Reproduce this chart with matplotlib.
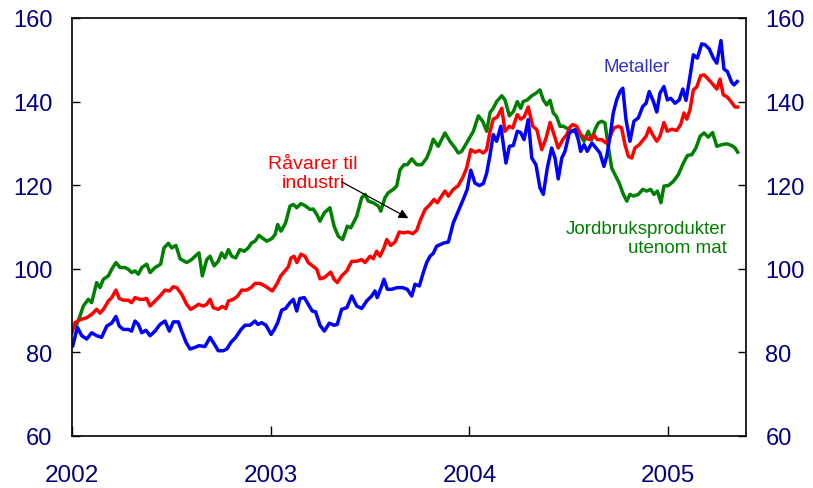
import matplotlib
matplotlib.use("Agg")
import matplotlib.pyplot as plt

plt.rcParams['font.family'] = ['Liberation Sans', 'DejaVu Sans']

# ---------------- data ----------------
green_t = [2002.007, 2002.024, 2002.040, 2002.057, 2002.082, 2002.099, 2002.116, 2002.124, 2002.141, 2002.158,
           2002.183, 2002.200, 2002.221, 2002.242, 2002.267, 2002.283, 2002.300, 2002.317, 2002.334, 2002.351,
           2002.376, 2002.393, 2002.418, 2002.446, 2002.463, 2002.485, 2002.502, 2002.523, 2002.544, 2002.577,
           2002.602, 2002.619, 2002.639, 2002.656, 2002.678, 2002.695, 2002.715, 2002.736, 2002.753, 2002.770,
           2002.787, 2002.804, 2002.824, 2002.845, 2002.867, 2002.887, 2002.904, 2002.921, 2002.941, 2002.963,
           2002.980, 2003.005, 2003.022, 2003.035, 2003.052, 2003.075, 2003.097, 2003.114, 2003.131, 2003.152,
           2003.173, 2003.198, 2003.214, 2003.232, 2003.248, 2003.270, 2003.298, 2003.319, 2003.340, 2003.362,
           2003.386, 2003.403, 2003.433, 2003.458, 2003.475, 2003.491, 2003.516, 2003.542, 2003.554, 2003.575,
           2003.592, 2003.617, 2003.634, 2003.651, 2003.671, 2003.687, 2003.710, 2003.735, 2003.760, 2003.785,
           2003.802, 2003.818, 2003.843, 2003.877, 2003.902, 2003.928, 2003.944, 2003.961, 2003.986, 2004.020,
           2004.045, 2004.067, 2004.087, 2004.104, 2004.120, 2004.137, 2004.163, 2004.179, 2004.201, 2004.221,
           2004.241, 2004.258, 2004.271, 2004.291, 2004.314, 2004.335, 2004.355, 2004.372, 2004.389, 2004.406,
           2004.422, 2004.439, 2004.456, 2004.473, 2004.498, 2004.523, 2004.540, 2004.557, 2004.577, 2004.598,
           2004.616, 2004.632, 2004.649, 2004.666, 2004.682, 2004.699, 2004.716, 2004.733, 2004.754, 2004.775,
           2004.792, 2004.808, 2004.825, 2004.850, 2004.872, 2004.892, 2004.912, 2004.929, 2004.946, 2004.964,
           2004.979, 2005.001, 2005.026, 2005.051, 2005.077, 2005.097, 2005.119, 2005.140, 2005.161, 2005.181,
           2005.202, 2005.224, 2005.245, 2005.270, 2005.295, 2005.320, 2005.337, 2005.350]
green_v = [86.0, 86.7, 88.7, 91.1, 92.7, 91.9, 95.1, 96.7, 95.5, 97.5,
           98.3, 99.9, 101.5, 100.3, 100.3, 99.9, 99.1, 99.5, 98.7, 100.3,
           101.1, 99.1, 100.3, 101.1, 105.0, 106.1, 105.0, 105.6, 102.4, 101.5,
           102.2, 103.0, 103.8, 98.3, 102.2, 103.0, 100.7, 101.8, 103.8, 102.6,
           104.6, 103.0, 102.6, 104.6, 104.2, 105.0, 106.2, 106.6, 108.0, 107.2,
           106.6, 107.2, 108.2, 110.6, 109.0, 111.0, 115.0, 115.4, 114.6, 115.6,
           115.1, 114.2, 114.3, 113.0, 111.4, 113.4, 114.6, 110.2, 107.8, 107.0,
           110.2, 109.8, 112.6, 117.0, 117.8, 116.2, 115.8, 115.0, 113.8, 117.0,
           118.2, 119.0, 119.8, 123.7, 124.9, 124.9, 126.3, 124.9, 124.9, 126.5,
           128.5, 131.0, 129.3, 132.5, 130.5, 128.9, 127.7, 128.1, 130.1, 132.9,
           136.6, 135.3, 132.9, 137.4, 138.4, 140.0, 141.4, 140.4, 136.6, 137.6,
           140.0, 138.4, 140.0, 140.4, 141.4, 142.0, 142.8, 140.4, 139.2, 140.3,
           137.3, 136.4, 134.1, 134.1, 133.4, 132.9, 133.1, 132.1, 130.5, 132.9,
           130.9, 133.3, 134.9, 135.3, 134.9, 129.3, 124.1, 122.5, 120.5, 117.8,
           116.2, 117.8, 117.4, 117.8, 119.0, 118.6, 119.0, 117.8, 118.6, 115.8,
           119.8, 119.9, 120.9, 122.5, 125.3, 127.1, 127.3, 128.9, 131.7, 132.5,
           131.5, 132.6, 129.3, 129.7, 129.9, 129.5, 128.9, 127.9]

red_t = [2002.000, 2002.015, 2002.040, 2002.074, 2002.099, 2002.124, 2002.141, 2002.158, 2002.183, 2002.200,
         2002.221, 2002.238, 2002.258, 2002.283, 2002.300, 2002.317, 2002.342, 2002.362, 2002.376, 2002.393,
         2002.418, 2002.443, 2002.468, 2002.490, 2002.510, 2002.527, 2002.552, 2002.577, 2002.597, 2002.619,
         2002.636, 2002.661, 2002.678, 2002.695, 2002.711, 2002.736, 2002.756, 2002.774, 2002.787, 2002.812,
         2002.834, 2002.854, 2002.879, 2002.901, 2002.921, 2002.946, 2002.971, 2002.996, 2003.008, 2003.030,
         2003.052, 2003.072, 2003.089, 2003.102, 2003.117, 2003.132, 2003.152, 2003.173, 2003.189, 2003.213,
         2003.232, 2003.248, 2003.270, 2003.302, 2003.319, 2003.335, 2003.357, 2003.383, 2003.408, 2003.433,
         2003.458, 2003.475, 2003.500, 2003.516, 2003.533, 2003.550, 2003.570, 2003.584, 2003.604, 2003.626,
         2003.647, 2003.667, 2003.692, 2003.715, 2003.735, 2003.751, 2003.777, 2003.802, 2003.822, 2003.838,
         2003.877, 2003.894, 2003.919, 2003.944, 2003.969, 2003.986, 2004.007, 2004.028, 2004.050, 2004.070,
         2004.087, 2004.104, 2004.120, 2004.140, 2004.163, 2004.179, 2004.201, 2004.218, 2004.241, 2004.258,
         2004.275, 2004.296, 2004.319, 2004.339, 2004.364, 2004.386, 2004.406, 2004.426, 2004.447, 2004.470,
         2004.490, 2004.506, 2004.520, 2004.540, 2004.560, 2004.582, 2004.607, 2004.624, 2004.644, 2004.666,
         2004.687, 2004.708, 2004.728, 2004.749, 2004.766, 2004.783, 2004.800, 2004.817, 2004.833, 2004.855,
         2004.875, 2004.889, 2004.905, 2004.922, 2004.943, 2004.959, 2004.979, 2004.996, 2005.018, 2005.043,
         2005.063, 2005.080, 2005.094, 2005.110, 2005.127, 2005.144, 2005.164, 2005.181, 2005.202, 2005.224,
         2005.245, 2005.261, 2005.278, 2005.298, 2005.320, 2005.337, 2005.350]
red_v = [84.7, 87.1, 87.8, 88.3, 89.1, 90.3, 89.4, 90.3, 92.3, 93.1,
         94.9, 92.9, 92.5, 92.5, 91.9, 93.1, 92.7, 92.7, 92.9, 91.1,
         92.3, 93.5, 94.9, 94.7, 95.7, 95.5, 93.9, 91.5, 90.3, 90.9,
         91.5, 91.1, 91.5, 92.7, 90.7, 90.3, 91.0, 90.5, 92.3, 92.7,
         93.5, 94.9, 94.9, 95.5, 96.5, 96.5, 95.9, 95.1, 94.7, 96.3,
         98.4, 99.5, 100.5, 102.6, 103.0, 101.5, 103.5, 103.0, 101.5, 100.6,
         99.9, 97.6, 97.9, 99.2, 97.5, 96.7, 98.3, 99.5, 101.8, 101.8,
         102.2, 101.5, 103.0, 102.4, 104.2, 103.0, 105.0, 107.0, 105.6, 106.4,
         108.8, 108.6, 108.8, 108.4, 109.2, 111.4, 114.2, 115.4, 116.6, 115.8,
         118.6, 117.4, 119.0, 119.9, 122.1, 124.1, 128.5, 127.9, 128.3, 127.7,
         128.5, 132.9, 135.8, 136.3, 138.4, 132.9, 134.1, 133.7, 136.9, 135.8,
         136.3, 138.7, 134.1, 133.3, 128.5, 131.3, 135.0, 132.1, 128.9, 130.9,
         132.1, 133.9, 134.5, 134.1, 132.1, 131.3, 130.9, 132.1, 130.9, 130.9,
         130.1, 131.7, 133.7, 134.1, 133.7, 129.7, 126.9, 126.5, 128.9, 129.7,
         130.9, 131.7, 133.7, 132.1, 130.5, 131.7, 135.0, 132.9, 133.4, 133.1,
         134.5, 137.3, 135.8, 138.0, 142.8, 143.5, 146.2, 146.4, 145.4, 144.2,
         143.0, 145.4, 141.6, 141.1, 139.8, 138.7, 138.7]

blue_t = [2002.004, 2002.027, 2002.049, 2002.074, 2002.099, 2002.124, 2002.149, 2002.175, 2002.200, 2002.221,
          2002.238, 2002.258, 2002.283, 2002.300, 2002.317, 2002.334, 2002.351, 2002.372, 2002.393, 2002.418,
          2002.443, 2002.468, 2002.490, 2002.510, 2002.535, 2002.552, 2002.574, 2002.594, 2002.619, 2002.639,
          2002.669, 2002.695, 2002.716, 2002.736, 2002.761, 2002.779, 2002.800, 2002.824, 2002.851, 2002.871,
          2002.896, 2002.921, 2002.935, 2002.955, 2002.976, 2003.002, 2003.018, 2003.035, 2003.055, 2003.075,
          2003.097, 2003.114, 2003.131, 2003.147, 2003.169, 2003.189, 2003.209, 2003.226, 2003.248, 2003.270,
          2003.295, 2003.319, 2003.335, 2003.357, 2003.383, 2003.408, 2003.433, 2003.458, 2003.483, 2003.508,
          2003.525, 2003.536, 2003.559, 2003.570, 2003.587, 2003.609, 2003.637, 2003.664, 2003.687, 2003.710,
          2003.726, 2003.748, 2003.768, 2003.785, 2003.802, 2003.818, 2003.835, 2003.872, 2003.894, 2003.919,
          2003.944, 2003.969, 2003.989, 2004.007, 2004.028, 2004.050, 2004.070, 2004.087, 2004.104, 2004.120,
          2004.137, 2004.158, 2004.184, 2004.201, 2004.221, 2004.241, 2004.258, 2004.275, 2004.296, 2004.314,
          2004.335, 2004.355, 2004.372, 2004.392, 2004.414, 2004.431, 2004.447, 2004.465, 2004.481, 2004.503,
          2004.531, 2004.548, 2004.560, 2004.577, 2004.593, 2004.616, 2004.637, 2004.657, 2004.677, 2004.691,
          2004.708, 2004.724, 2004.741, 2004.758, 2004.772, 2004.788, 2004.808, 2004.828, 2004.850, 2004.872,
          2004.889, 2004.905, 2004.926, 2004.943, 2004.959, 2004.979, 2004.996, 2005.013, 2005.035, 2005.056,
          2005.074, 2005.090, 2005.110, 2005.127, 2005.147, 2005.169, 2005.186, 2005.207, 2005.228, 2005.245,
          2005.266, 2005.281, 2005.298, 2005.320, 2005.332, 2005.348]
blue_v = [81.6, 86.0, 84.0, 83.2, 84.7, 84.0, 83.6, 86.3, 87.0, 88.6,
          86.3, 85.5, 85.5, 85.1, 87.5, 86.7, 84.7, 85.3, 84.0, 85.1,
          86.7, 87.5, 85.1, 87.3, 87.3, 85.1, 82.4, 80.8, 81.2, 81.6,
          81.4, 83.6, 82.0, 80.4, 80.4, 80.8, 82.4, 83.6, 85.5, 86.5,
          86.5, 87.5, 86.7, 87.1, 86.5, 84.3, 85.5, 87.1, 90.1, 90.5,
          91.9, 92.7, 89.9, 92.9, 93.1, 91.5, 89.9, 89.7, 86.5, 85.1,
          87.0, 86.5, 86.7, 90.3, 90.7, 93.5, 91.1, 90.5, 92.3, 93.5,
          94.7, 93.1, 95.9, 97.5, 95.1, 95.1, 95.5, 95.5, 95.1, 93.5,
          96.3, 95.9, 99.1, 101.5, 103.0, 103.7, 105.4, 106.2, 106.4, 111.0,
          113.8, 116.6, 119.0, 123.6, 120.5, 119.9, 120.4, 122.9, 127.3, 132.1,
          130.5, 134.1, 125.3, 129.3, 129.5, 132.9, 132.6, 130.9, 135.7, 126.5,
          124.9, 119.4, 117.8, 124.1, 128.9, 126.5, 121.5, 126.5, 128.1, 132.5,
          133.3, 130.9, 128.1, 129.7, 128.1, 130.1, 128.9, 127.7, 124.5, 126.9,
          131.7, 137.3, 140.4, 142.4, 143.2, 135.7, 130.5, 135.3, 136.1, 138.8,
          139.6, 142.4, 140.0, 137.5, 142.0, 143.6, 140.4, 140.8, 139.6, 140.4,
          143.0, 140.3, 146.0, 151.2, 150.4, 153.8, 153.6, 152.6, 150.4, 149.2,
          154.6, 147.8, 147.2, 144.6, 144.0, 144.8]

year_ticks = [2002, 2003, 2004, 2005]
year_labels = ["2002", "2003", "2004", "2005"]
y_ticks = [60, 80, 100, 120, 140, 160]

# ---------------- figure ----------------
fig = plt.figure(figsize=(8.13, 4.89), dpi=100)
ax = fig.add_axes([72 / 813, 1 - 437 / 489, (746 - 72) / 813, (437 - 19) / 489])

ax.plot(green_t, green_v, color="#008000", lw=2.5, solid_joinstyle="round")
ax.plot(red_t, red_v, color="#ff0000", lw=2.5, solid_joinstyle="round")
ax.plot(blue_t, blue_v, color="#0000ff", lw=2.5, solid_joinstyle="round")

ax.set_xlim(2002, 2005.392)
ax.set_ylim(60, 160)
ax.set_yticks(y_ticks)
ax.set_xticks(year_ticks)
ax.set_xticklabels(year_labels)

navy = "#000080"
ax.tick_params(axis="y", direction="in", length=6, width=1, left=True, right=True,
               labelleft=True, labelright=True, labelsize=17, labelcolor=navy, pad=14)
ax.tick_params(axis="x", direction="in", length=7, width=1, top=False,
               labelsize=17.5, labelcolor=navy, pad=20)
for s in ax.spines.values():
    s.set_linewidth(1.2)
    s.set_color("black")

# annotations
ax.text(2004.843, 148.3, "Metaller", color="#3333cc", fontsize=13.5,
        ha="center", va="center")
ax.text(2003.213, 122.9, "Råvarer til\nindustri", color="#ff0000", fontsize=14,
        ha="center", va="center", linespacing=1.15)
ax.text(2005.296, 107.4, "Jordbruksprodukter\nutenom mat", color="#008000", fontsize=13.5,
        ha="right", va="center", multialignment="right", linespacing=1.15)
ax.annotate("", xy=(2003.693, 112.1), xytext=(2003.357, 120.8),
            arrowprops=dict(arrowstyle="-|>", color="black", lw=0.9,
                            mutation_scale=14, shrinkA=0, shrinkB=0))

fig.savefig("out.png", dpi=100)
